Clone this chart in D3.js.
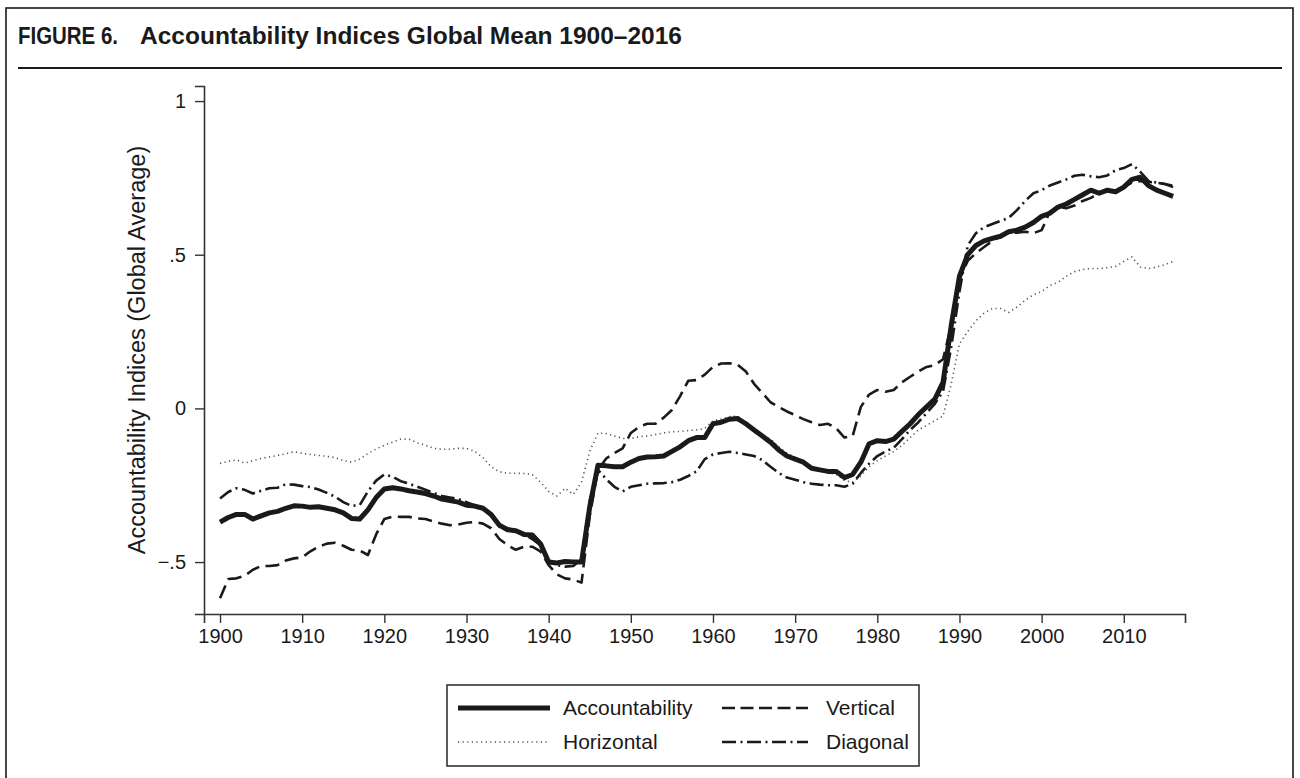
<!DOCTYPE html>
<html><head><meta charset="utf-8">
<script src="https://cdn.jsdelivr.net/npm/d3@7/dist/d3.min.js"></script>
<style>
body{margin:0;background:#fff}
svg{display:block}
text{font-family:"Liberation Sans",Arial,Helvetica,sans-serif;fill:#1a1a1a}
</style>
</head><body>
<svg id="chart" width="1300" height="778"></svg>
<script>
const startYear = 1900;
const xTicks = [1900,1910,1920,1930,1940,1950,1960,1970,1980,1990,2000,2010];
const yTicks = [-0.5,0,0.5,1];
const yTickLabels = ["\u2212.5","0",".5","1"];
const seriesNames = ["Accountability","Vertical","Horizontal","Diagonal"];

const accountability = [
-0.370,-0.355,-0.345,-0.345,-0.360,-0.350,-0.340,-0.335,-0.325,-0.317,
-0.318,-0.322,-0.320,-0.325,-0.330,-0.340,-0.358,-0.360,-0.330,-0.290,
-0.262,-0.258,-0.262,-0.268,-0.272,-0.277,-0.285,-0.295,-0.300,-0.305,
-0.315,-0.318,-0.325,-0.345,-0.380,-0.395,-0.398,-0.410,-0.412,-0.440,
-0.500,-0.503,-0.498,-0.500,-0.500,-0.320,-0.185,-0.187,-0.190,-0.190,
-0.175,-0.163,-0.158,-0.157,-0.155,-0.140,-0.125,-0.105,-0.095,-0.095,
-0.050,-0.045,-0.035,-0.033,-0.050,-0.070,-0.090,-0.110,-0.135,-0.155,
-0.165,-0.175,-0.195,-0.200,-0.205,-0.205,-0.225,-0.215,-0.175,-0.115,
-0.105,-0.108,-0.100,-0.075,-0.050,-0.020,0.005,0.030,0.085,0.270,
0.430,0.500,0.530,0.545,0.553,0.560,0.575,0.580,0.590,0.605,
0.625,0.635,0.655,0.665,0.680,0.695,0.710,0.700,0.710,0.705,
0.720,0.745,0.752,0.725,0.710,0.700,0.690];

const vertical = [
-0.618,-0.555,-0.553,-0.545,-0.525,-0.513,-0.513,-0.510,-0.495,-0.488,
-0.485,-0.465,-0.450,-0.440,-0.437,-0.447,-0.460,-0.462,-0.477,-0.410,
-0.360,-0.352,-0.353,-0.353,-0.358,-0.360,-0.368,-0.375,-0.380,-0.378,
-0.372,-0.370,-0.375,-0.390,-0.425,-0.445,-0.460,-0.450,-0.450,-0.465,
-0.510,-0.540,-0.553,-0.557,-0.567,-0.350,-0.200,-0.163,-0.145,-0.130,
-0.080,-0.060,-0.050,-0.050,-0.030,-0.005,0.040,0.090,0.092,0.110,
0.135,0.146,0.147,0.142,0.120,0.080,0.050,0.020,0.005,-0.010,
-0.022,-0.035,-0.045,-0.054,-0.050,-0.065,-0.095,-0.090,0.005,0.045,
0.060,0.054,0.060,0.085,0.103,0.120,0.135,0.141,0.160,0.270,
0.420,0.480,0.505,0.525,0.545,0.560,0.570,0.572,0.575,0.570,
0.580,0.640,0.656,0.651,0.660,0.675,0.685,0.700,0.710,0.710,
0.720,0.735,0.740,0.737,0.734,0.730,0.725];

const horizontal = [
-0.179,-0.172,-0.168,-0.178,-0.170,-0.163,-0.158,-0.153,-0.148,-0.141,
-0.146,-0.150,-0.153,-0.156,-0.160,-0.170,-0.175,-0.165,-0.147,-0.132,
-0.120,-0.110,-0.100,-0.100,-0.112,-0.120,-0.130,-0.133,-0.133,-0.130,
-0.130,-0.140,-0.160,-0.190,-0.206,-0.211,-0.211,-0.212,-0.215,-0.240,
-0.270,-0.285,-0.260,-0.280,-0.240,-0.140,-0.080,-0.082,-0.090,-0.098,
-0.098,-0.092,-0.090,-0.085,-0.080,-0.076,-0.075,-0.072,-0.070,-0.065,
-0.040,-0.035,-0.027,-0.025,-0.045,-0.065,-0.085,-0.100,-0.125,-0.145,
-0.160,-0.175,-0.190,-0.200,-0.210,-0.215,-0.235,-0.240,-0.220,-0.190,
-0.170,-0.155,-0.140,-0.120,-0.095,-0.070,-0.055,-0.040,-0.025,0.080,
0.210,0.250,0.285,0.310,0.325,0.325,0.312,0.330,0.352,0.370,
0.380,0.400,0.410,0.430,0.445,0.452,0.455,0.455,0.458,0.462,
0.478,0.493,0.460,0.455,0.460,0.468,0.478];

const diagonal = [
-0.293,-0.272,-0.260,-0.265,-0.277,-0.268,-0.260,-0.258,-0.247,-0.248,
-0.253,-0.256,-0.264,-0.275,-0.287,-0.305,-0.317,-0.315,-0.270,-0.235,
-0.215,-0.222,-0.237,-0.245,-0.255,-0.265,-0.275,-0.285,-0.290,-0.295,
-0.305,-0.315,-0.325,-0.350,-0.385,-0.390,-0.400,-0.410,-0.425,-0.445,
-0.500,-0.510,-0.515,-0.513,-0.490,-0.300,-0.200,-0.230,-0.255,-0.270,
-0.255,-0.250,-0.245,-0.244,-0.243,-0.240,-0.232,-0.220,-0.205,-0.165,
-0.150,-0.145,-0.141,-0.145,-0.150,-0.155,-0.168,-0.190,-0.210,-0.225,
-0.232,-0.240,-0.245,-0.248,-0.250,-0.250,-0.255,-0.245,-0.210,-0.180,
-0.155,-0.140,-0.128,-0.100,-0.070,-0.045,-0.015,0.015,0.055,0.200,
0.380,0.530,0.570,0.590,0.600,0.610,0.620,0.645,0.675,0.700,
0.710,0.725,0.735,0.745,0.757,0.760,0.755,0.752,0.758,0.775,
0.782,0.795,0.770,0.740,0.735,0.730,0.720];

const svg = d3.select("#chart");
const ink = "#1a1a1a";

// figure frame
svg.append("rect").attr("x",6).attr("y",8).attr("width",1287).attr("height",800)
  .attr("fill","none").attr("stroke",ink).attr("stroke-width",1.6);
// title
svg.append("text").attr("x",18).attr("y",44)
  .style("font-weight","bold").style("font-size","24px")
  .attr("textLength",100).attr("lengthAdjust","spacingAndGlyphs")
  .text("FIGURE 6.");
svg.append("text").attr("x",140).attr("y",44)
  .style("font-weight","bold").style("font-size","24.5px")
  .text("Accountability Indices Global Mean 1900\u20132016");
svg.append("line").attr("x1",18).attr("x2",1282).attr("y1",68).attr("y2",68)
  .attr("stroke",ink).attr("stroke-width",2);

const x = d3.scaleLinear().domain([1898.05, 2017.45]).range([204, 1185]);
const y = d3.scaleLinear().domain([-0.669, 1.049]).range([614, 86]);

// axes
const xAxis = svg.append("g").attr("transform","translate(0,614)")
  .call(d3.axisBottom(x).tickValues(xTicks).tickFormat(d3.format("d")).tickSizeOuter(0).tickSize(9).tickPadding(6));
const yAxis = svg.append("g").attr("transform","translate(204,0)")
  .call(d3.axisLeft(y).tickValues(yTicks).tickFormat((d,i)=>yTickLabels[i]).tickSizeOuter(0).tickSize(9).tickPadding(9));
[xAxis,yAxis].forEach(g=>{
  g.selectAll("path.domain").attr("stroke","#333").attr("stroke-width",1.6);
  g.selectAll(".tick line").attr("stroke","#333").attr("stroke-width",1.4);
  g.selectAll(".tick text").style("font-size","20px").attr("fill",ink)
    .style("font-family",'"Liberation Sans",Arial,Helvetica,sans-serif');
});

svg.append("text").attr("transform","translate(145,350) rotate(-90)")
  .attr("text-anchor","middle").style("font-size","23.5px")
  .text("Accountability Indices (Global Average)");

const styles = {
  Accountability:{data:accountability, w:5, dash:null, color:ink},
  Vertical:{data:vertical, w:2.6, dash:"14 6.5", color:ink},
  Horizontal:{data:horizontal, w:1.6, dash:"1.2 3.4", color:"#555"},
  Diagonal:{data:diagonal, w:2.6, dash:"14 4.5 2 4.5", color:ink}
};
const line = d3.line().x((d,i)=>x(startYear+i)).y(d=>y(d));
["Horizontal","Diagonal","Vertical","Accountability"].forEach(name=>{
  const s = styles[name];
  svg.append("path").datum(s.data).attr("d",line)
    .attr("fill","none").attr("stroke",s.color).attr("stroke-width",s.w)
    .attr("stroke-dasharray",s.dash).attr("stroke-linejoin","round");
});

// legend
const lg = svg.append("g");
lg.append("rect").attr("x",447).attr("y",685).attr("width",472).attr("height",81)
  .attr("fill","#fff").attr("stroke","#333").attr("stroke-width",1.6);
const legendPos = {
  Accountability:[458,708], Vertical:[722,708], Horizontal:[458,742], Diagonal:[722,742]
};
seriesNames.forEach(name=>{
  const s = styles[name], p = legendPos[name];
  lg.append("line").attr("x1",p[0]).attr("x2",p[0]+(name==="Vertical"||name==="Diagonal"?86:92))
    .attr("y1",p[1]).attr("y2",p[1]).attr("stroke",s.color).attr("stroke-width",s.w)
    .attr("stroke-dasharray",name==="Vertical"?"13 5.5":s.dash);
  lg.append("text").attr("x",p[0]+(name==="Vertical"||name==="Diagonal"?104:105)).attr("y",p[1]+7)
    .style("font-size","21px").text(name);
});
</script>
</body></html>
